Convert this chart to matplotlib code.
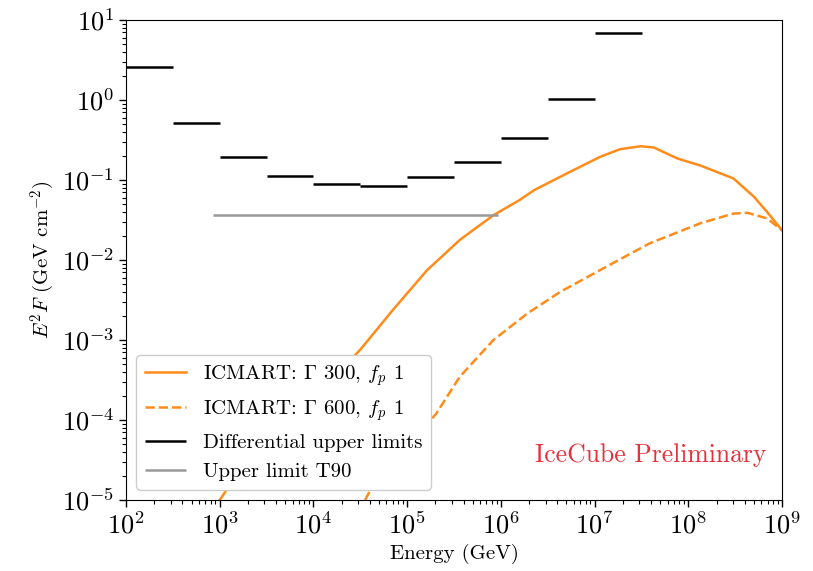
import numpy as np
import matplotlib
matplotlib.use("Agg")
import matplotlib.pyplot as plt
from matplotlib.ticker import LogLocator, NullFormatter

plt.rcParams['font.family'] = ['cmr10']
plt.rcParams['mathtext.fontset'] = 'cm'
plt.rcParams['axes.formatter.use_mathtext'] = True

# Differential upper limits (half-decade bins)
ul_e_lo = [1e2, 10**2.5, 1e3, 10**3.5, 1e4, 10**4.5, 1e5, 10**5.5, 1e6, 10**6.5, 1e7]
ul_e_hi = [10**2.5, 1e3, 10**3.5, 1e4, 10**4.5, 1e5, 10**5.5, 1e6, 10**6.5, 1e7, 10**7.5]
ul_vals = [2.6, 0.52, 0.195, 0.113, 0.088, 0.084, 0.108, 0.167, 0.335, 1.03, 6.8]

# Upper limit T90
t90_e = [845, 9.3e5]
t90_val = 0.037

# ICMART Gamma 300 (log10 E, log10 E^2F)
g300_logE = [3.0, 3.08, 4.5, 4.85, 5.21, 5.56, 5.92, 6.2, 6.35, 6.70, 7.06, 7.27,
             7.49, 7.63, 7.88, 8.13, 8.48, 8.70, 8.84, 9.0]
g300_logF = [-5.0, -4.86, -3.12, -2.62, -2.13, -1.75, -1.44, -1.25, -1.13, -0.92,
             -0.71, -0.615, -0.578, -0.593, -0.73, -0.82, -0.98, -1.21, -1.40, -1.63]

# ICMART Gamma 600
g600_logE = [4.55, 4.62, 5.31, 5.56, 5.92, 6.28, 6.63, 6.99, 7.13, 7.59, 8.13,
             8.48, 8.63, 8.84, 9.0]
g600_logF = [-5.0, -4.85, -3.92, -3.46, -3.0, -2.67, -2.40, -2.17, -2.08, -1.79,
             -1.54, -1.42, -1.41, -1.48, -1.63]

orange = '#ff8c1a'

fig = plt.figure(figsize=(8.13, 5.71), dpi=100)
ax = fig.add_axes([0.155, 0.1243, 0.807, 0.8407])

ax.plot(np.power(10.0, g300_logE), np.power(10.0, g300_logF), color=orange, lw=1.8,
        label=r'ICMART: $\Gamma$ 300, $f_p$ 1')
ax.plot(np.power(10.0, g600_logE), np.power(10.0, g600_logF), color=orange, lw=1.8,
        ls='--', label=r'ICMART: $\Gamma$ 600, $f_p$ 1')
ax.hlines(ul_vals, ul_e_lo, ul_e_hi, color='black', lw=1.8,
          label='Differential upper limits')
ax.hlines([t90_val], [t90_e[0]], [t90_e[1]], color='#999999', lw=1.8,
          label='Upper limit T90')

ax.set_xscale('log')
ax.set_yscale('log')
ax.set_xlim(1e2, 1e9)
ax.set_ylim(1e-5, 1e1)

ax.xaxis.set_major_locator(LogLocator(base=10, numticks=20))
ax.xaxis.set_minor_locator(LogLocator(base=10, subs=np.arange(2, 10), numticks=20))
ax.yaxis.set_major_locator(LogLocator(base=10, numticks=20))
ax.yaxis.set_minor_locator(LogLocator(base=10, subs=np.arange(2, 10), numticks=20))
ax.xaxis.set_minor_formatter(NullFormatter())
ax.yaxis.set_minor_formatter(NullFormatter())
ax.tick_params(which='major', labelsize=19, length=5, width=1, direction='out')
ax.tick_params(which='minor', length=3, width=0.8, direction='out')

ax.set_xlabel('Energy (GeV)', fontsize=15, labelpad=4)
ax.set_ylabel(r'$E^2F$ (GeV cm$^{-2}$)', fontsize=15, labelpad=3)

ax.legend(loc='lower left', fontsize=15, frameon=True, framealpha=1.0)

ax.text(0.976, 0.094, 'IceCube Preliminary', transform=ax.transAxes, ha='right',
        va='center', color='#e8303a', fontsize=18.5)

fig.savefig('out.png', dpi=100)
